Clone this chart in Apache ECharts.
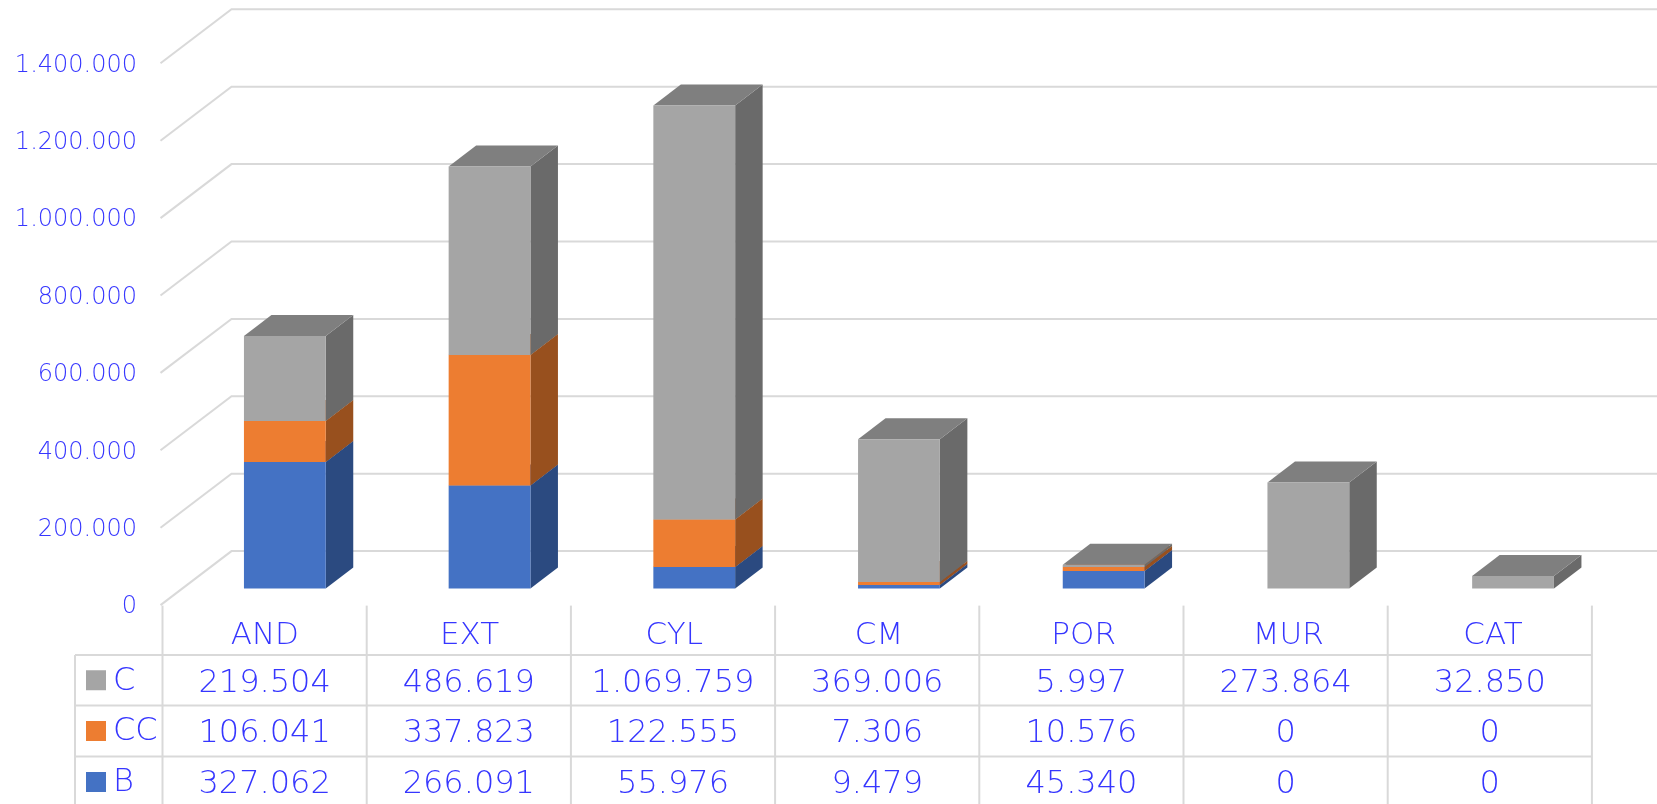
<!DOCTYPE html>
<html>
<head>
<meta charset="utf-8">
<title>chart</title>
<script src="https://cdn.jsdelivr.net/npm/echarts@6/dist/echarts.min.js"></script>
<style>
  html, body { margin: 0; padding: 0; background: #fff; }
  #main { width: 1657px; height: 804px; }
</style>
</head>
<body>
<div id="main"></div>
<script>
'use strict';
// data
var categories = ['AND', 'EXT', 'CYL', 'CM', 'POR', 'MUR', 'CAT'];
var valuesB = [327062, 266091, 55976, 9479, 45340, 0, 0];
var valuesCC = [106041, 337823, 122555, 7306, 10576, 0, 0];
var valuesC = [219504, 486619, 1069759, 369006, 5997, 273864, 32850];
var yTicks = [0, 200000, 400000, 600000, 800000, 1000000, 1200000, 1400000];

var FONT = '"DejaVu Sans", sans-serif';
var TEXT = '#3636ff';
var LINE = '#d9d9d9';

var chart = echarts.init(document.getElementById('main'));

var left = 162.5, colW = 204.7, tableColW = 204.2, zeroY = 603.6, plotH = 541.8;
var wallDx = 69, wallDy = 52.5;     // 背板相对前沿的偏移
var barDx = 20, barDy = 15;         // 柱子相对前沿的偏移
var sideDx = 27.5, sideDy = 21;     // 柱子厚度
var barW = 81.8;
var rowLines = [655, 705.5, 756.5, 807.5];
var tableLeft = 75;

function fmt(v) {
  return String(v).replace(/\B(?=(\d{3})+$)/g, '.');
}

function poly(points, color) {
  return { type: 'polygon', shape: { points: points }, style: { fill: color } };
}

// 单段立体柱子
function boxRender(front, side, top) {
  return function (params, api) {
    var lo = api.coord([api.value(0), api.value(1)]);
    var hi = api.coord([api.value(0), api.value(2)]);
    if (api.value(2) <= api.value(1)) {
      return;
    }
    var x0 = lo[0] - barW / 2 + barDx;
    var x1 = x0 + barW;
    var y0 = lo[1] - barDy;
    var y1 = hi[1] - barDy;
    return {
      type: 'group',
      children: [
        poly([[x1, y0], [x1 + sideDx, y0 - sideDy], [x1 + sideDx, y1 - sideDy], [x1, y1]], side),
        poly([[x0, y1], [x1, y1], [x1 + sideDx, y1 - sideDy], [x0 + sideDx, y1 - sideDy]], top),
        poly([[x0, y0], [x1, y0], [x1, y1], [x0, y1]], front)
      ]
    };
  };
}

function stackData(lower, upper) {
  return categories.map(function (c, i) {
    return [i, lower[i], upper[i]];
  });
}

var stackB = valuesB.map(function (v) { return v; });
var stackCC = valuesB.map(function (v, i) { return v + valuesCC[i]; });
var stackC = stackCC.map(function (v, i) { return v + valuesC[i]; });
var zeros = categories.map(function () { return 0; });

// 表格线和图例
var graphics = [];
function addLine(x1, y1, x2, y2) {
  graphics.push({
    type: 'line',
    z: 1,
    shape: { x1: x1, y1: y1, x2: x2, y2: y2 },
    style: { stroke: LINE, lineWidth: 2 }
  });
}
rowLines.forEach(function (y) {
  addLine(tableLeft, y, left + tableColW * categories.length, y);
});
addLine(tableLeft, rowLines[0], tableLeft, 804);
for (var c = 0; c <= categories.length; c++) {
  addLine(left + tableColW * c, zeroY + 2, left + tableColW * c, 804);
}

var rows = [
  { name: 'C', color: '#a5a5a5', values: valuesC },
  { name: 'CC', color: '#ed7d31', values: valuesCC },
  { name: 'B', color: '#4472c4', values: valuesB }
];
rows.forEach(function (row, r) {
  var cy = (rowLines[r] + rowLines[r + 1]) / 2 + 3;
  graphics.push({
    type: 'rect',
    shape: { x: 86, y: cy - 13, width: 20, height: 20 },
    style: { fill: row.color }
  });
  graphics.push({
    type: 'text',
    style: {
      x: 113, y: cy - 2, text: row.name, fill: TEXT,
      font: '200 32px ' + FONT, textVerticalAlign: 'middle'
    }
  });
  row.values.forEach(function (v, i) {
    graphics.push({
      type: 'text',
      style: {
        x: left + tableColW * (i + 0.5), y: cy, text: fmt(v), fill: TEXT,
        font: '200 32px ' + FONT, textAlign: 'center', textVerticalAlign: 'middle'
      }
    });
  });
});

var option = {
  animation: false,
  backgroundColor: '#fff',
  grid: {
    left: left,
    top: zeroY - plotH,
    width: colW * categories.length,
    height: plotH,
    containLabel: false
  },
  xAxis: {
    type: 'category',
    data: categories,
    axisLine: { show: false },
    axisTick: { show: false },
    splitLine: { show: false },
    axisLabel: {
      color: TEXT,
      fontFamily: FONT,
      fontWeight: 200,
      fontSize: 31,
      margin: 17
    }
  },
  yAxis: {
    type: 'value',
    min: 0,
    max: 1400000,
    interval: 200000,
    axisLine: { show: false },
    axisTick: { show: false },
    splitLine: { show: false },
    axisLabel: { show: false }
  },
  graphic: graphics,
  series: [
    {
      // 背板网格线和纵轴文字
      type: 'custom',
      z: 1,
      silent: true,
      data: yTicks.map(function (v) { return [0, v]; }),
      encode: { x: 0, y: 1 },
      renderItem: function (params, api) {
        var y = api.coord([0, api.value(1)])[1];
        return {
          type: 'group',
          children: [{
            type: 'polyline',
            shape: { points: [[left - 2, y + 1.5], [left + wallDx, y - wallDy], [api.getWidth(), y - wallDy]] },
            style: { stroke: LINE, lineWidth: 2, fill: 'none' }
          }, {
            type: 'text',
            style: {
              x: left - 25.5,
              y: y + 3.5,
              text: fmt(api.value(1)),
              fill: TEXT,
              font: '200 24px ' + FONT,
              textAlign: 'right',
              textVerticalAlign: 'middle'
            }
          }]
        };
      }
    },
    {
      type: 'custom',
      name: 'B',
      z: 2,
      data: stackData(zeros, stackB),
      encode: { x: 0, y: [1, 2] },
      renderItem: boxRender('#4472c4', '#2b4a80', '#2f5597')
    },
    {
      type: 'custom',
      name: 'CC',
      z: 3,
      data: stackData(stackB, stackCC),
      encode: { x: 0, y: [1, 2] },
      renderItem: boxRender('#ed7d31', '#98501e', '#b25e24')
    },
    {
      type: 'custom',
      name: 'C',
      z: 4,
      data: stackData(stackCC, stackC),
      encode: { x: 0, y: [1, 2] },
      renderItem: boxRender('#a5a5a5', '#6a6a6a', '#7f7f7f')
    }
  ]
};

chart.setOption(option);
</script>
</body>
</html>
